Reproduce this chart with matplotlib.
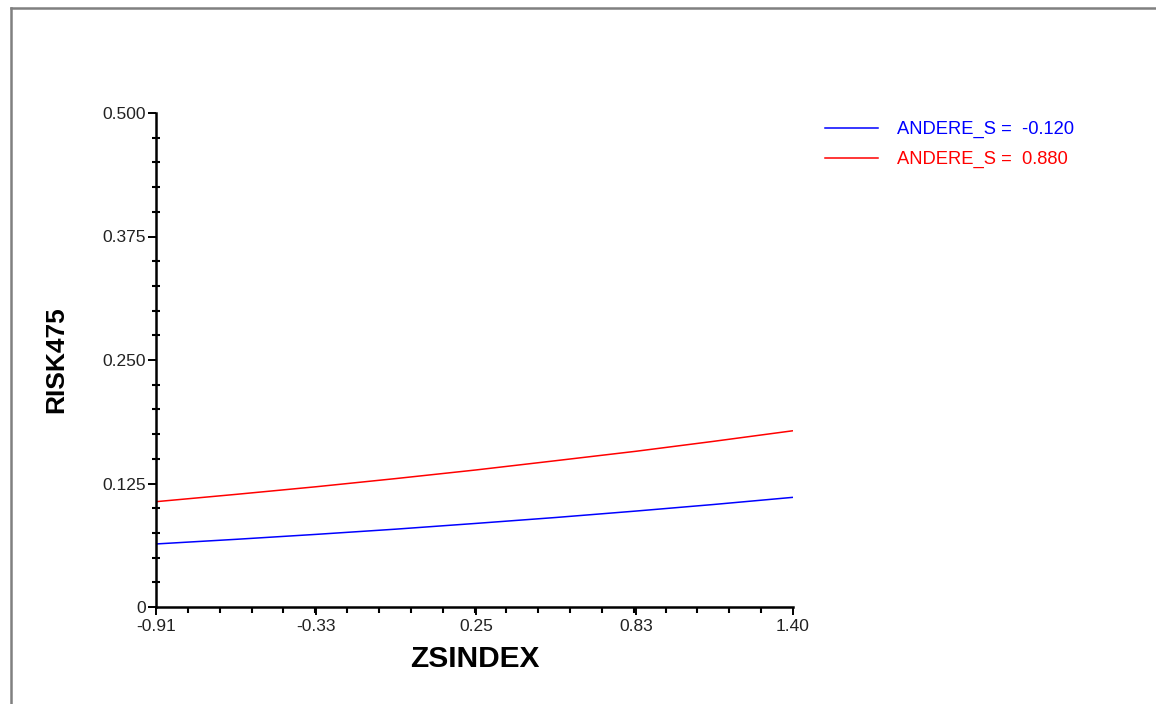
import matplotlib
matplotlib.use("Agg")
import matplotlib.pyplot as plt
from matplotlib.lines import Line2D
from matplotlib.ticker import FixedLocator, MultipleLocator

plt.rcParams['font.family'] = ['Liberation Sans', 'DejaVu Sans']

# Predicted risk across ZSINDEX for two levels of ANDERE_S
zsindex = [-0.91, -0.62, -0.33, -0.04, 0.25, 0.54, 0.83, 1.11, 1.40]
risk_low = [0.0638, 0.0685, 0.0735, 0.0788, 0.0846, 0.0906, 0.0971, 0.1037, 0.1110]
risk_high = [0.1066, 0.1140, 0.1217, 0.1300, 0.1387, 0.1481, 0.1576, 0.1676, 0.1784]
series_labels = ['ANDERE_S =  -0.120', 'ANDERE_S =  0.880']
series_colors = ['#0000ff', '#ff0000']

x_ticks = [-0.91, -0.33, 0.25, 0.83, 1.40]
x_ticklabels = ['-0.91', '-0.33', '0.25', '0.83', '1.40']
y_ticks = [0, 0.125, 0.25, 0.375, 0.5]
y_ticklabels = ['0', '0.125', '0.250', '0.375', '0.500']

W, H = 1156, 704
fig = plt.figure(figsize=(W / 100, H / 100), dpi=100)
ax = fig.add_axes([156 / W, 1 - 607 / H, (793 - 156) / W, (607 - 113) / H])

for ys, c in zip([risk_low, risk_high], series_colors):
    ax.plot(zsindex, ys, color=c, lw=1.1, solid_capstyle='butt')

ax.set_xlim(x_ticks[0], x_ticks[-1])
ax.set_ylim(0, 0.5)
ax.xaxis.set_major_locator(FixedLocator(x_ticks))
ax.set_xticklabels(x_ticklabels)
step = (x_ticks[-1] - x_ticks[0]) / 20
ax.xaxis.set_minor_locator(FixedLocator([x_ticks[0] + i * step for i in range(21)]))
ax.yaxis.set_major_locator(FixedLocator(y_ticks))
ax.set_yticklabels(y_ticklabels)
ax.yaxis.set_minor_locator(MultipleLocator(0.025))

for s in ['top', 'right']:
    ax.spines[s].set_visible(False)
for s in ['left', 'bottom']:
    ax.spines[s].set_linewidth(1.8)
    ax.spines[s].set_color('black')

ax.tick_params(axis='y', which='major', direction='out', length=6, width=1.4,
               labelsize=12.5, pad=1.5, labelcolor='#222222')
ax.tick_params(axis='y', which='minor', direction='inout', length=5.5, width=1.5)
ax.tick_params(axis='x', which='major', direction='out', length=6, width=1.4,
               labelsize=12.5, pad=2.5, labelcolor='#222222')
ax.tick_params(axis='x', which='minor', direction='out', length=4, width=1.5)

ax.set_xlabel('ZSINDEX', fontsize=21.5, fontweight='bold', labelpad=8)
ax.set_ylabel('RISK475', fontsize=19, fontweight='bold', labelpad=24)

# Legend drawn as line samples with coloured labels
for i, (lab, c) in enumerate(zip(series_labels, series_colors)):
    yy = 1 - (128 + 30 * i) / H
    fig.add_artist(Line2D([825 / W, 878 / W], [yy, yy], color=c, lw=1.1,
                          transform=fig.transFigure))
    fig.text(897 / W, yy - 1 / H, lab, color=c, fontsize=13.2, va='center', ha='left')

# Frame around the panel (top and left edges)
fig.add_artist(Line2D([10.5 / W, 1], [1 - 7.5 / H, 1 - 7.5 / H], color='#808080',
                      lw=1.8, transform=fig.transFigure))
fig.add_artist(Line2D([10.5 / W, 10.5 / W], [0, 1 - 7.5 / H], color='#808080',
                      lw=1.8, transform=fig.transFigure))

fig.savefig('out.png', dpi=100, facecolor='white')
